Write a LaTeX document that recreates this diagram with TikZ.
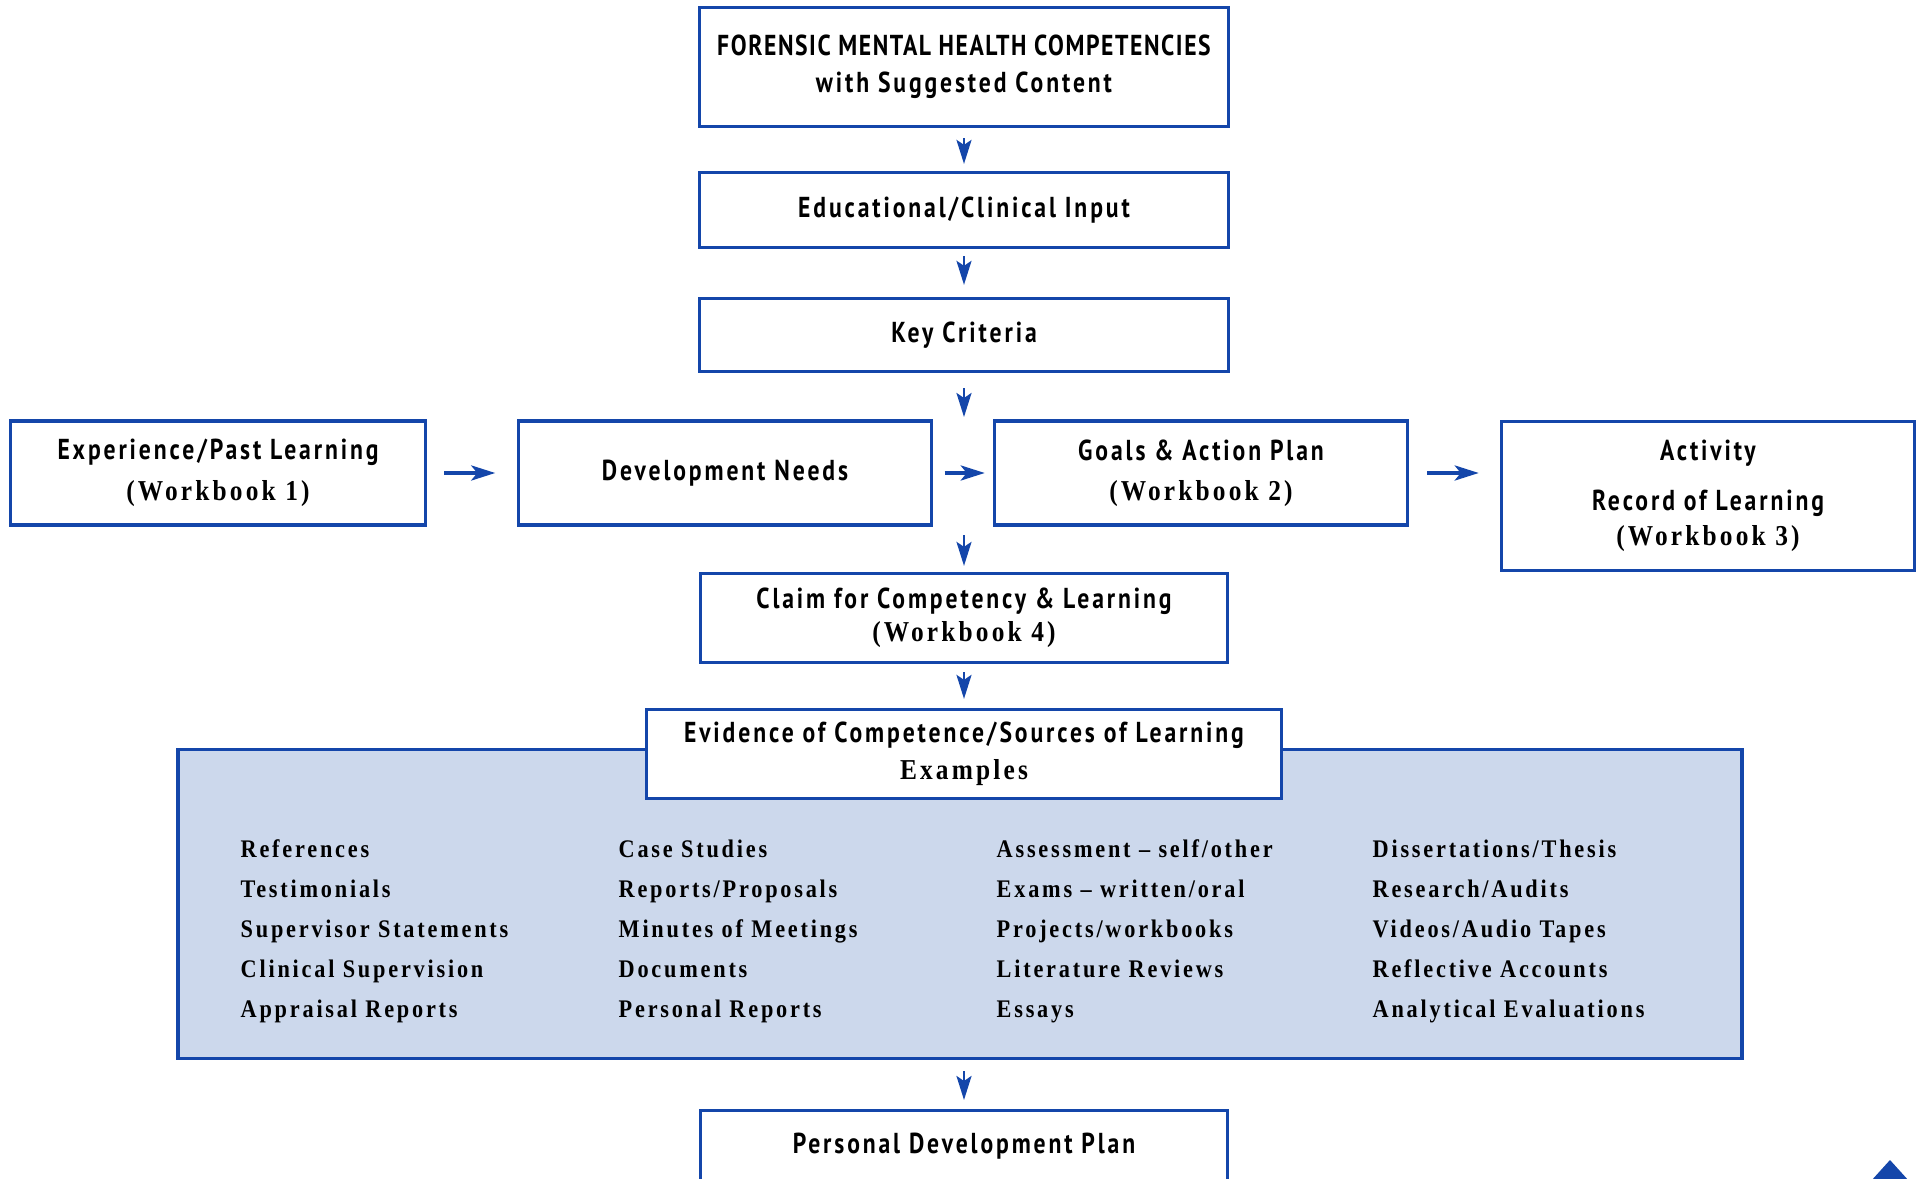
\documentclass[tikz,border=0pt]{standalone}
\usepackage{fontspec}
\usetikzlibrary{arrows.meta}
\newfontfamily\hdfont{PT Sans}[FakeStretch=0.82,LetterSpace=10]
\newfontfamily\wbfont{Liberation Serif}[FakeStretch=0.88,LetterSpace=11]
\definecolor{fmblue}{RGB}{20,70,170}
\definecolor{fmpanel}{RGB}{204,216,236}
\newcommand{\wb}[1]{{\wbfont\bfseries #1}}
\tikzset{
  box/.style={draw=fmblue, line width=0.9pt, fill=white, align=center, inner sep=0pt,
    font=\hdfont\bfseries\fontsize{8.2}{10.5}\selectfont},
  arrv/.style={fmblue, line width=0.7pt, -{Stealth[length=0.24cm,width=0.15cm,inset=0.05cm]}},
  arrh/.style={fmblue, line width=1.1pt, -{Stealth[length=0.24cm,width=0.15cm,inset=0.06cm]}},
  item/.style={anchor=base west, inner sep=0pt, font=\wbfont\bfseries\fontsize{7.2}{9}\selectfont},
}
\begin{document}
\begin{tikzpicture}[x=0.01cm, y=-0.01cm]
  \useasboundingbox (0,0) rectangle (1923,1179);
  \clip (0,0) rectangle (1923,1179);

  % main column
  \node[box, minimum width=5.29cm, minimum height=1.19cm] (fmhc) at (964,67)
    {{\addfontfeature{LetterSpace=5.5}FORENSIC MENTAL HEALTH COMPETENCIES}\\with Suggested Content};
  \node[box, minimum width=5.29cm, minimum height=0.75cm] (input) at (964,210)
    {Educational/Clinical Input};
  \node[box, minimum width=5.29cm, minimum height=0.73cm] (crit) at (964,335)
    {Key Criteria};

  % workbook row
  \node[box, minimum width=4.15cm, minimum height=1.04cm] (exper) at (218,473)
    {Experience/Past Learning\\[1pt]\wb{(Workbook 1)}};
  \node[box, minimum width=4.12cm, minimum height=1.04cm] (devneeds) at (725,473)
    {Development Needs};
  \node[box, minimum width=4.13cm, minimum height=1.04cm] (goals) at (1201,473)
    {Goals \& Action Plan\\[1pt]\wb{(Workbook 2)}};
  \node[box, minimum width=4.13cm, minimum height=1.49cm] (activity) at (1708,496)
    {Activity\\[3.7pt]Record of Learning\\[-0.5pt]\wb{(Workbook 3)}};
  \coordinate (rowtop) at (964,421);
  \coordinate (rowbot) at (964,525);

  \node[box, minimum width=5.27cm, minimum height=0.89cm] (claim) at (964,618)
    {Claim for Competency \& Learning\\[-1pt]\wb{(Workbook 4)}};

  % evidence panel
  \node[draw=fmblue, line width=0.9pt, fill=fmpanel, minimum width=15.63cm,
    minimum height=3.09cm, inner sep=0pt] (panel) at (960,904) {};
  \node[box, minimum width=6.34cm, minimum height=0.89cm] (evid) at (964,754)
    {Evidence of Competence/Sources of Learning\\\wb{Examples}};

  \foreach \t [count=\r] in {References, Testimonials, Supervisor Statements,
      Clinical Supervision, Appraisal Reports}
    \node[item] (exa-\r) at (240,817+40*\r) {\t};
  \foreach \t [count=\r] in {Case Studies, Reports/Proposals, Minutes of Meetings,
      Documents, Personal Reports}
    \node[item] (exb-\r) at (618,817+40*\r) {\t};
  \foreach \t [count=\r] in {Assessment – self/other, Exams – written/oral,
      Projects/workbooks, Literature Reviews, Essays}
    \node[item] (exc-\r) at (996,817+40*\r) {\t};
  \foreach \t [count=\r] in {Dissertations/Thesis, Research/Audits,
      Videos/Audio Tapes, Reflective Accounts, Analytical Evaluations}
    \node[item] (exd-\r) at (1372,817+40*\r) {\t};

  \node[box, anchor=north, minimum width=5.26cm, text height=0.43cm,
    text depth=0.6cm] (pdp) at (964,1109) {Personal Development Plan};

  % arrows
  \draw[arrv, shorten <=0.1cm, shorten >=0.07cm] (fmhc.south) -- (input.north);
  \draw[arrv, shorten <=0.07cm, shorten >=0.12cm] (input.south) -- (crit.north);
  \draw[arrv, shorten <=0.15cm, shorten >=0.04cm] (crit.south) -- (rowtop);
  \draw[arrv, shorten <=0.1cm, shorten >=0.06cm] (rowbot) -- (claim.north);
  \draw[arrv, shorten <=0.08cm, shorten >=0.09cm] (claim.south) -- (evid.north);
  \draw[arrv, shorten <=0.11cm, shorten >=0.09cm] (pdp.north |- panel.south) -- (pdp.north);
  \draw[arrh, shorten <=0.17cm, shorten >=0.22cm] (exper.east) -- (devneeds.west);
  \draw[arrh, shorten <=0.12cm, shorten >=0.08cm] (devneeds.east) -- (goals.west);
  \draw[arrh, shorten <=0.18cm, shorten >=0.21cm] (goals.east) -- (goals.east -| activity.west);

  % corner mark
  \fill[fmblue] (1871,1181) -- (1890,1160) -- (1909,1181) -- cycle;
\end{tikzpicture}
\end{document}
